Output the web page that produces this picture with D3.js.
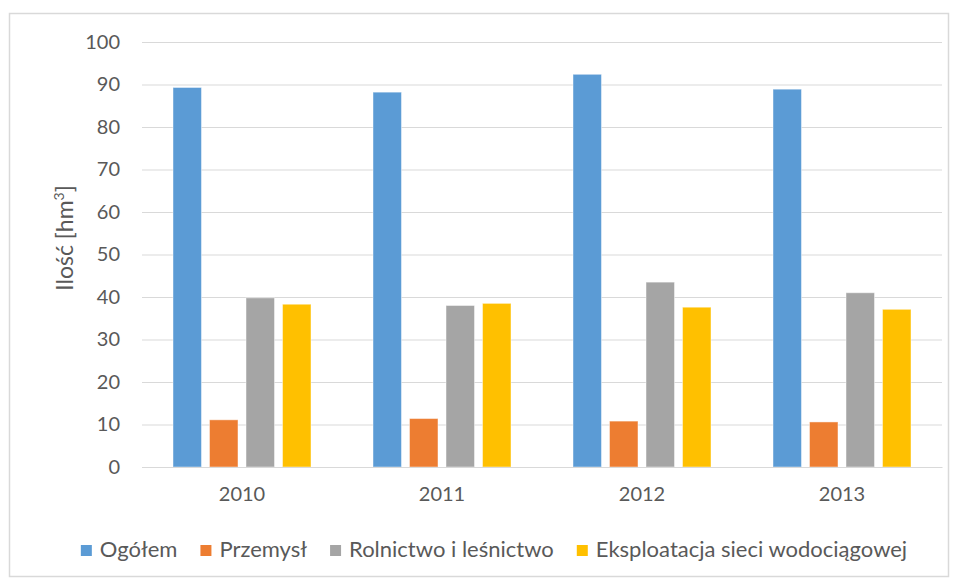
<!DOCTYPE html>
<html>
<head>
<meta charset="utf-8">
<script src="https://cdn.jsdelivr.net/npm/d3@7"></script>
<style>
  body { margin: 0; background: #fff; }
  text { font-family: Lato, "Open Sans", sans-serif; fill: #595959; }
</style>
</head>
<body>
<div id="chart"></div>
<script>
// --------------- Data ---------------
const years = ["2010", "2011", "2012", "2013"];
const seriesNames = ["Ogółem", "Przemysł", "Rolnictwo i leśnictwo", "Eksploatacja sieci wodociągowej"];
const ogolem = [89.3, 88.2, 92.4, 88.9];
const przemysl = [11.1, 11.4, 10.8, 10.6];
const rolnictwo = [39.8, 38.0, 43.5, 41.0];
const eksploatacja = [38.3, 38.5, 37.6, 37.1];
const yTicks = [0, 10, 20, 30, 40, 50, 60, 70, 80, 90, 100];

// --------------- Constants ---------------
const WIDTH = 958;
const HEIGHT = 582;
const MARGINS = { top: 42, right: 16, bottom: 115, left: 142 };
const VIS_WIDTH = WIDTH - MARGINS.left - MARGINS.right;
const VIS_HEIGHT = HEIGHT - MARGINS.top - MARGINS.bottom;
const COLORS = ["#5B9BD5", "#ED7D31", "#A5A5A5", "#FFC000"];

const allSeries = [ogolem, przemysl, rolnictwo, eksploatacja];
const rows = years.map((year, i) => ({
  year,
  values: seriesNames.map((name, j) => ({ name, value: allSeries[j][i] })),
}));

const svg = d3
  .select("#chart")
  .append("svg")
  .attr("width", WIDTH)
  .attr("height", HEIGHT);

// chart frame
svg
  .append("rect")
  .attr("x", 9.5)
  .attr("y", 13.5)
  .attr("width", 939)
  .attr("height", 563)
  .attr("fill", "#fff")
  .attr("stroke", "#d9d9d9")
  .attr("stroke-width", 1.5);

const X0 = d3
  .scaleBand()
  .domain(years)
  .range([0, VIS_WIDTH])
  .paddingInner(0.31)
  .paddingOuter(0.155);

const X1 = d3
  .scaleBand()
  .domain(seriesNames)
  .range([0, X0.bandwidth()])
  .paddingInner(0.22);

const Y_SCALE = d3.scaleLinear().domain([0, 100]).range([VIS_HEIGHT, 0]);

const color = d3.scaleOrdinal().domain(seriesNames).range(COLORS);

const plot = svg
  .append("g")
  .attr("transform", `translate(${MARGINS.left},${MARGINS.top})`);

// gridlines + y labels
const yAxis = plot
  .append("g")
  .call(d3.axisLeft(Y_SCALE).tickValues(yTicks).tickSize(-VIS_WIDTH).tickPadding(22));
yAxis.select(".domain").remove();
yAxis.selectAll("line").attr("stroke", "#d9d9d9").attr("stroke-width", 1);
yAxis
  .selectAll("text")
  .attr("font-size", "20px")
  .attr("font-family", "Lato, sans-serif")
  .attr("fill", "#595959");

// bars
plot
  .append("g")
  .selectAll("g")
  .data(rows)
  .join("g")
  .attr("transform", (d) => `translate(${X0(d.year)},0)`)
  .selectAll("rect")
  .data((d) => d.values)
  .join("rect")
  .attr("x", (d) => X1(d.name))
  .attr("y", (d) => Y_SCALE(d.value))
  .attr("width", X1.bandwidth())
  .attr("height", (d) => VIS_HEIGHT - Y_SCALE(d.value))
  .attr("fill", (d) => color(d.name))
  .attr("stroke", "rgba(255,255,255,0.45)")
  .attr("stroke-width", 1);

// x axis
const xAxis = plot
  .append("g")
  .attr("transform", `translate(0,${VIS_HEIGHT})`)
  .call(d3.axisBottom(X0).tickSize(0).tickPadding(20));
xAxis.select(".domain").attr("stroke", "#d9d9d9");
xAxis
  .selectAll("text")
  .attr("font-size", "20px")
  .attr("font-family", "Lato, sans-serif")
  .attr("fill", "#595959");

// y axis title
const yTitle = svg
  .append("text")
  .attr("transform", `translate(73,238) rotate(-90)`)
  .attr("text-anchor", "middle")
  .attr("font-size", "23px")
  .attr("fill", "#595959");
yTitle.append("tspan").text("Ilość [hm");
yTitle.append("tspan").attr("font-size", "14px").attr("dy", "-9").text("3");
yTitle.append("tspan").attr("dy", "9").text("]");

// legend
const legend = svg.append("g");
const items = legend
  .selectAll("g")
  .data(seriesNames)
  .join("g");
items
  .append("rect")
  .attr("y", -12)
  .attr("width", 11)
  .attr("height", 11)
  .attr("fill", (d) => color(d));
items
  .append("text")
  .attr("x", 19)
  .attr("y", 0)
  .attr("font-size", "22px")
  .text((d) => d);

let offset = 0;
items.each(function () {
  const w = d3.select(this).select("text").node().getComputedTextLength();
  d3.select(this).attr("transform", `translate(${offset},0)`);
  offset += 19 + w + 23;
});
const legendWidth = offset - 23;
legend.attr("transform", `translate(${494 - legendWidth / 2},557)`);
</script>
</body>
</html>
